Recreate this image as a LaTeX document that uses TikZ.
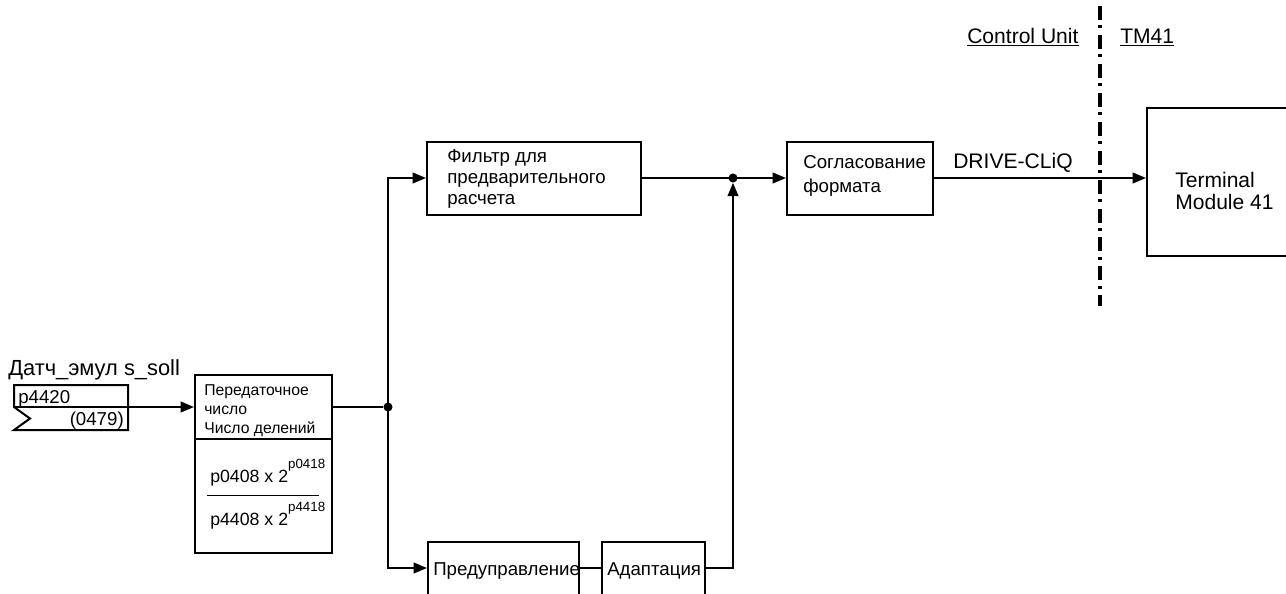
\documentclass[tikz,border=0pt]{standalone}
\usepackage{fontspec}
\setmainfont{Liberation Sans}
\usetikzlibrary{arrows.meta,calc}
\begin{document}
\begin{tikzpicture}[x=0.75pt,y=-0.75pt,
 box/.style={draw,line width=1.5pt,inner sep=0pt},
 wire/.style={line width=1.5pt},
 arr/.style={wire,-{Triangle[length=10pt,width=8pt]}},
 txt/.style={anchor=base west,inner sep=0pt,font=\fontsize{14}{16}\selectfont},
 big/.style={txt,font=\fontsize{15.8}{18}\selectfont},
 sm/.style={txt,font=\fontsize{11.8}{14}\selectfont},
 frac/.style={txt,font=\fontsize{13.3}{15}\selectfont},
 jdot/.style={circle,fill,inner sep=0pt,minimum size=6.8pt},
 sep/.style={line width=2.4pt,dash pattern=on 10.5pt off 4pt on 2.2pt off 5pt}]
\useasboundingbox (0,0) rectangle (1286,593);
\clip (0,0) rectangle (1286,593);

% input connector box
\node[big,font=\fontsize{16.4}{18}\selectfont] (title) at (8,375) {Датч\_эмул s\_soll};
\coordinate (pin) at (14,407);
\draw[wire] (pin) -- (14,385) -- (128,385) -- (128,430) -- (14,430) -- (30,418.5) -- cycle;
\node[txt] (pnum) at (18,403) {p4420};
\node[txt,anchor=base east] (pidx) at (124,425) {(0479)};

% ratio box
\node[box,minimum width=102.75pt,minimum height=48pt] (ratioTop) at (263.5,407) {};
\node[box,minimum width=102.75pt,minimum height=85.5pt] (ratioBot) at (263.5,496) {};
\node[sm] (r1) at (204,395) {Передаточное};
\node[sm] (r2) at (204,414) {число};
\node[sm] (r3) at (204,433) {Число делений};
\node[frac] (num) at (210,482) {p0408 x 2\raisebox{10.5pt}{\fontsize{10}{10}\selectfont p0418}};
\draw[line width=0.6pt] (207,495) -- (319,495);
\node[frac] (den) at (210,525) {p4408 x 2\raisebox{10.5pt}{\fontsize{10}{10}\selectfont p4418}};

\draw[arr] (pin) -- (ratioTop.west);

% branch
\node[jdot] (j1) at (388,407) {};
\draw[wire] (ratioTop.east) -- (j1);

% boxes
\node[box,minimum width=160.5pt,minimum height=54.75pt] (filt) at (534,178) {};
\node[txt] (f1) at (447,162) {Фильтр для};
\node[txt] (f2) at (447,183) {предварительного};
\node[txt] (f3) at (447,204) {расчета};

\coordinate (rowb) at (0,568);
\node[box,minimum width=113.25pt,minimum height=52.5pt] (pred) at (503.5,577) {};
\node[txt] (pt) at (433,575) {Предуправление};
\node[box,minimum width=77.25pt,minimum height=52.5pt] (adapt) at (653.5,577) {};
\node[txt] (at) at (607,575) {Адаптация};

\node[box,minimum width=109.5pt,minimum height=54.75pt] (sog) at (860,178) {};
\node[txt] (s1) at (803,168) {Согласование};
\node[txt] (s2) at (803,192) {формата};

\node[box,minimum width=111pt,minimum height=111pt] (tm) at (1221,182) {};
\node[big] (t1) at (1175,187) {Terminal};
\node[big] (t2) at (1175,209) {Module 41};

\node[jdot] (j2) at (733,178) {};

% connectors
\draw[arr] (j1.center) |- (filt.west);
\draw[arr] (j1.center) |- (pred.west |- rowb);
\draw[wire] (pred.east |- rowb) -- (adapt.west |- rowb);
\draw[wire] (filt.east) -- (j2.center);
\draw[arr] (j2.center) -- (sog.west);
\draw[arr] (adapt.east |- rowb) -| (j2.south);
\draw[arr] (sog.east) -- (sog.east -| tm.west);
\node[big] (dcq) at (953,168) {DRIVE-CLiQ};

% separator
\coordinate (sepTop) at (1100,6);
\coordinate (sepBot) at (1100,306);
\draw[sep] (sepTop) -- (sepBot);
\node[big] (cu) at (967,43) {\underline{Control Unit}};
\node[big] (tm41) at (1120,43) {\underline{TM41}};
\end{tikzpicture}
\end{document}
